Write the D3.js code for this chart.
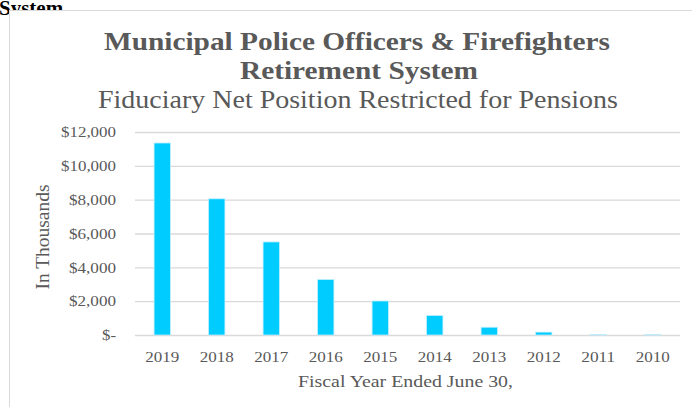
<!DOCTYPE html>
<html><head><meta charset="utf-8">
<script src="https://cdn.jsdelivr.net/npm/d3@7"></script>
<style>body{margin:0;background:#fff}svg{display:block}</style>
</head><body>
<script>
const years = ["2019","2018","2017","2016","2015","2014","2013","2012","2011","2010"];
const values = [11350, 8050, 5500, 3280, 2010, 1150, 460, 170, 15, 12];
const yTicks = [0, 2000, 4000, 6000, 8000, 10000, 12000];
const titleLines = ["Municipal Police Officers & Firefighters", "Retirement System"];
const subtitle = "Fiduciary Net Position Restricted for Pensions";
const yTitle = "In Thousands";
const xTitle = "Fiscal Year Ended June 30,";

const W = 692, H = 407;
const svg = d3.select("body").append("svg").attr("width", W).attr("height", H);
const serif = "'Liberation Serif', 'Times New Roman', serif";
const grey = "#595959";

// overflowing text behind chart area
svg.append("text").attr("x", -1).attr("y", 15).attr("font-family", serif)
  .attr("font-weight", "bold").attr("font-size", 21).attr("fill", "#000").text("System");
svg.append("rect").attr("x", 9.5).attr("y", 10.5).attr("width", W).attr("height", H)
  .attr("fill", "#fff").attr("stroke", "#d9d9d9");

const m = {left: 135, right: 680, top: 132, bottom: 335};
const x = d3.scaleBand().domain(years).range([m.left, m.right]).paddingInner(0.7).paddingOuter(0.35);
const y = d3.scaleLinear().domain([0, 12000]).range([m.bottom, m.top]);

const fmt = v => v === 0 ? "$-" : "$" + d3.format(",")(v);
const yAxis = d3.axisLeft(y).tickValues(yTicks).tickSize(-(m.right - m.left)).tickFormat(fmt).tickPadding(19);
const gy = svg.append("g").attr("transform", `translate(${m.left},0)`).call(yAxis);
gy.select(".domain").remove();
gy.selectAll(".tick line").attr("stroke", "#d9d9d9").attr("stroke-width", 1.3);
gy.selectAll(".tick text").attr("font-family", serif).attr("font-size", 15).attr("fill", grey)
  .attr("textLength", d => d === 0 ? 14 : (d >= 10000 ? 55 : 47)).attr("lengthAdjust", "spacingAndGlyphs");

svg.append("g").selectAll("rect").data(values).join("rect")
  .attr("x", (d, i) => x(years[i]))
  .attr("width", x.bandwidth())
  .attr("y", d => y(d))
  .attr("height", d => y(0) - y(d))
  .attr("fill", "#00ccff")
  .attr("stroke", "#bfeeff").attr("stroke-width", 0.8);

const xAxis = d3.axisBottom(x).tickSize(0).tickPadding(16);
const gx = svg.append("g").attr("transform", `translate(0,${m.bottom})`).call(xAxis);
gx.select(".domain").remove();
gx.selectAll(".tick text").attr("font-family", serif).attr("font-size", 15).attr("fill", grey)
  .attr("textLength", 34).attr("lengthAdjust", "spacingAndGlyphs");

svg.append("text").attr("x", 405.5).attr("y", 387).attr("text-anchor", "middle")
  .attr("font-family", serif).attr("font-size", 17.5).attr("fill", grey)
  .attr("textLength", 215).attr("lengthAdjust", "spacingAndGlyphs").text(xTitle);
svg.append("text").attr("transform", "translate(49,237) rotate(-90)").attr("text-anchor", "middle")
  .attr("font-family", serif).attr("font-size", 18).attr("fill", grey)
  .attr("textLength", 105).attr("lengthAdjust", "spacingAndGlyphs").text(yTitle);

svg.append("text").attr("x", 357).attr("y", 50).attr("text-anchor", "middle")
  .attr("font-family", serif).attr("font-weight", "bold").attr("font-size", 25.5).attr("fill", grey)
  .attr("textLength", 506).attr("lengthAdjust", "spacingAndGlyphs").text(titleLines[0]);
svg.append("text").attr("x", 359).attr("y", 79).attr("text-anchor", "middle")
  .attr("font-family", serif).attr("font-weight", "bold").attr("font-size", 25.5).attr("fill", grey)
  .attr("textLength", 238).attr("lengthAdjust", "spacingAndGlyphs").text(titleLines[1]);
svg.append("text").attr("x", 358).attr("y", 108).attr("text-anchor", "middle")
  .attr("font-family", serif).attr("font-size", 26).attr("fill", grey)
  .attr("textLength", 520).attr("lengthAdjust", "spacingAndGlyphs").text(subtitle);
</script>
</body></html>
